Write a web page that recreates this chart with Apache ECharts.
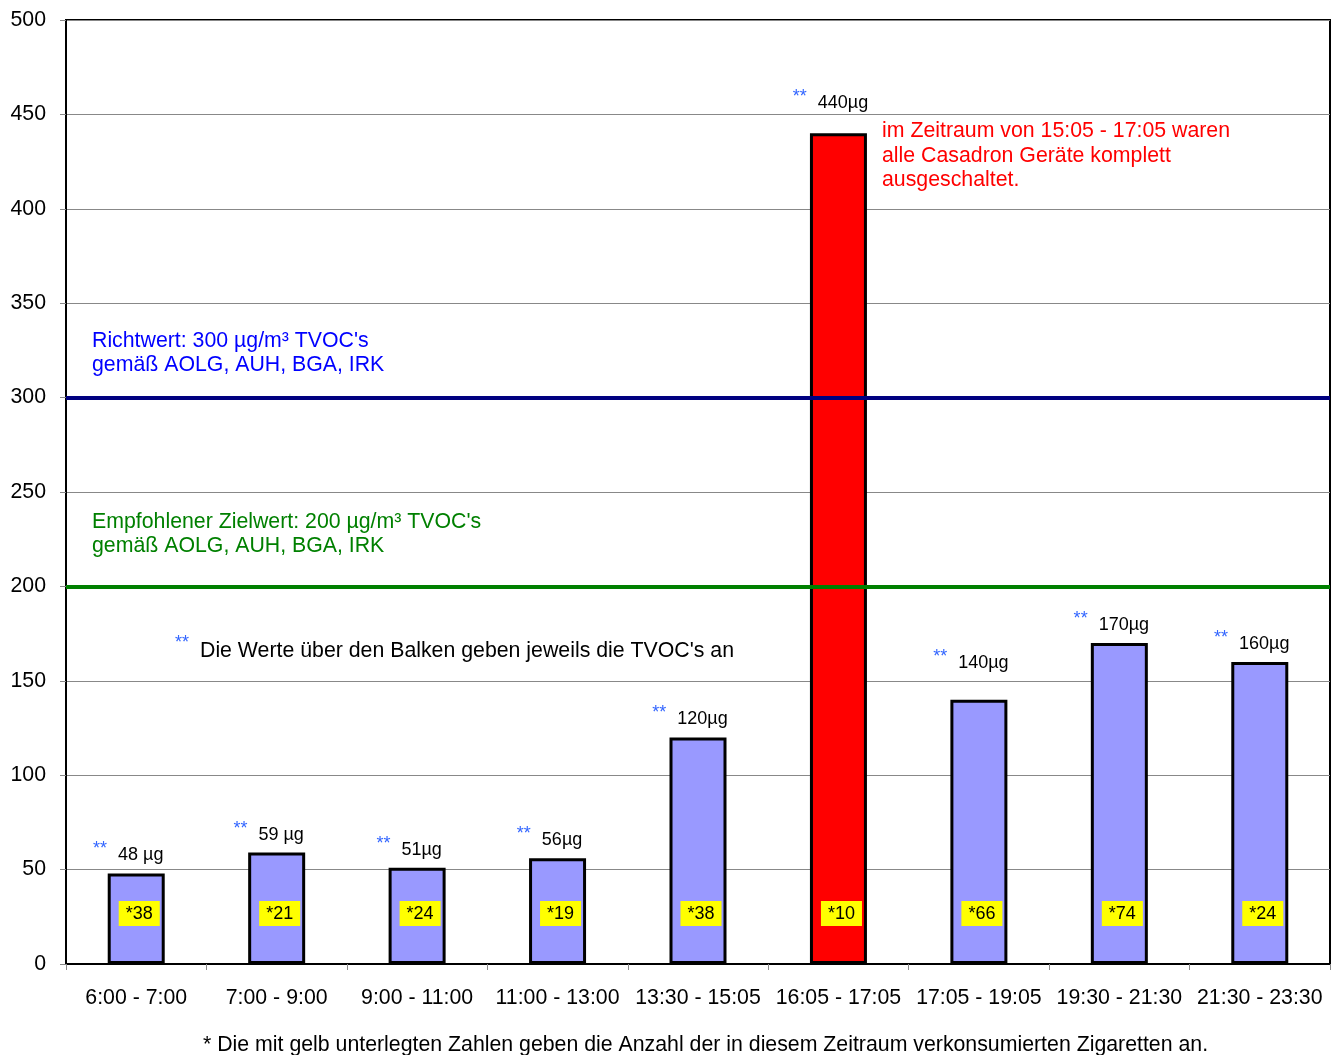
<!DOCTYPE html>
<html><head><meta charset="utf-8">
<script src="https://cdn.jsdelivr.net/npm/echarts@6/dist/echarts.min.js"></script>
<style>html,body{margin:0;padding:0;background:#fff}#c{width:1338px;height:1055px}</style>
</head><body><div id="c"></div>
<script>
const categories = ['6:00 - 7:00','7:00 - 9:00','9:00 - 11:00','11:00 - 13:00','13:30 - 15:05','16:05 - 17:05','17:05 - 19:05','19:30 - 21:30','21:30 - 23:30'];
const tvocValues = [48, 59, 51, 56, 120, 440, 140, 170, 160];
const tvocLabels = ['48 µg','59 µg','51µg','56µg','120µg','440µg','140µg','170µg','160µg'];
const cigarettes = [38, 21, 24, 19, 38, 10, 66, 74, 24];
const highlightIndex = 5;
const richtwert = 300;
const zielwert = 200;

// extra lift (px) of some top labels, as in the original layout
const labelLift = { 5: 12, 6: 19 };

const FONT = "'Liberation Sans', Arial, sans-serif";
const FS = 21.3;
const chart = echarts.init(document.getElementById('c'), null, {renderer:'canvas'});

chart.setOption({
  animation: false,
  backgroundColor: '#fff',
  grid: { left: 66, right: 8, top: 20, bottom: 91, show: true, borderColor: '#000', borderWidth: 2, backgroundColor: 'transparent' },
  xAxis: {
    type: 'category', data: categories,
    axisLine: { lineStyle: { color: '#000', width: 2 } },
    axisTick: { show: true, interval: 0, length: 6, lineStyle: { color: '#888' } },
    axisLabel: { interval: 0, color: '#000', fontSize: FS, fontFamily: FONT, margin: 24 }
  },
  yAxis: {
    type: 'value', min: 0, max: 500, interval: 50,
    axisLine: { show: true, lineStyle: { color: '#000', width: 2 } },
    axisTick: { show: true, length: 6, lineStyle: { color: '#888' } },
    axisLabel: { color: '#000', fontSize: FS, fontFamily: FONT, margin: 20 },
    splitLine: { lineStyle: { color: '#888', width: 1 } }
  },
  series: [
    {
      type: 'bar', barWidth: 57, z: 3,
      data: tvocValues.map((v, i) => ({
        value: v,
        itemStyle: { color: i === highlightIndex ? '#ff0000' : '#9999ff', borderColor: '#000', borderWidth: 3 }
      })),
      label: {
        show: true, position: 'insideBottom', distance: 38, offset: [3, 0],
        formatter: p => '*' + cigarettes[p.dataIndex],
        color: '#000', fontSize: 18, fontFamily: FONT,
        backgroundColor: '#ffff00', padding: [4, 7, 3, 7]
      },
      markLine: {
        silent: true, symbol: 'none', label: { show: false },
        data: [
          { yAxis: richtwert, lineStyle: { color: '#000080', width: 4, type: 'solid' } },
          { yAxis: zielwert, lineStyle: { color: '#008000', width: 4, type: 'solid' } }
        ]
      }
    },
    {
      type: 'bar', barWidth: 57, barGap: '-100%', z: 4, silent: true,
      itemStyle: { color: 'transparent' },
      data: tvocValues.map((v, i) => ({
        value: v,
        label: { offset: [-8, -(labelLift[i] || 0)] }
      })),
      label: {
        show: true, position: 'top', distance: 9, offset: [-8, 0],
        formatter: p => '{s|**}{v|' + tvocLabels[p.dataIndex] + '}',
        rich: {
          s: { color: '#3366ff', fontSize: 18, fontFamily: FONT, lineHeight: 24, verticalAlign: 'top', padding: [0, 11, 0, 0] },
          v: { color: '#000', fontSize: 18, fontFamily: FONT, lineHeight: 24, verticalAlign: 'bottom' }
        }
      }
    }
  ],
  graphic: [
    { type: 'text', left: 92, top: 329, style: { text: "Richtwert: 300 µg/m³ TVOC's\ngemäß AOLG, AUH, BGA, IRK", fill: '#0000ff', font: FS + 'px ' + FONT, lineHeight: 24 } },
    { type: 'text', left: 92, top: 510, style: { text: "Empfohlener Zielwert: 200 µg/m³ TVOC's\ngemäß AOLG, AUH, BGA, IRK", fill: '#008000', font: FS + 'px ' + FONT, lineHeight: 24 } },
    { type: 'text', left: 882, top: 119, style: { text: "im Zeitraum von 15:05 - 17:05 waren\nalle Casadron Geräte komplett\nausgeschaltet.", fill: '#ff0000', font: FS + 'px ' + FONT, lineHeight: 24.5 } },
    { type: 'text', left: 175, top: 634, style: { text: "**", fill: '#3366ff', font: '18px ' + FONT } },
    { type: 'text', left: 200, top: 641, style: { text: "Die Werte über den Balken geben jeweils die TVOC's an", fill: '#000', font: FS + 'px ' + FONT } },
    { type: 'text', left: 203, top: 1035, style: { text: "* Die mit gelb unterlegten Zahlen geben die Anzahl der in diesem Zeitraum verkonsumierten Zigaretten an.", fill: '#000', font: FS + 'px ' + FONT } }
  ]
});
</script>
</body></html>
